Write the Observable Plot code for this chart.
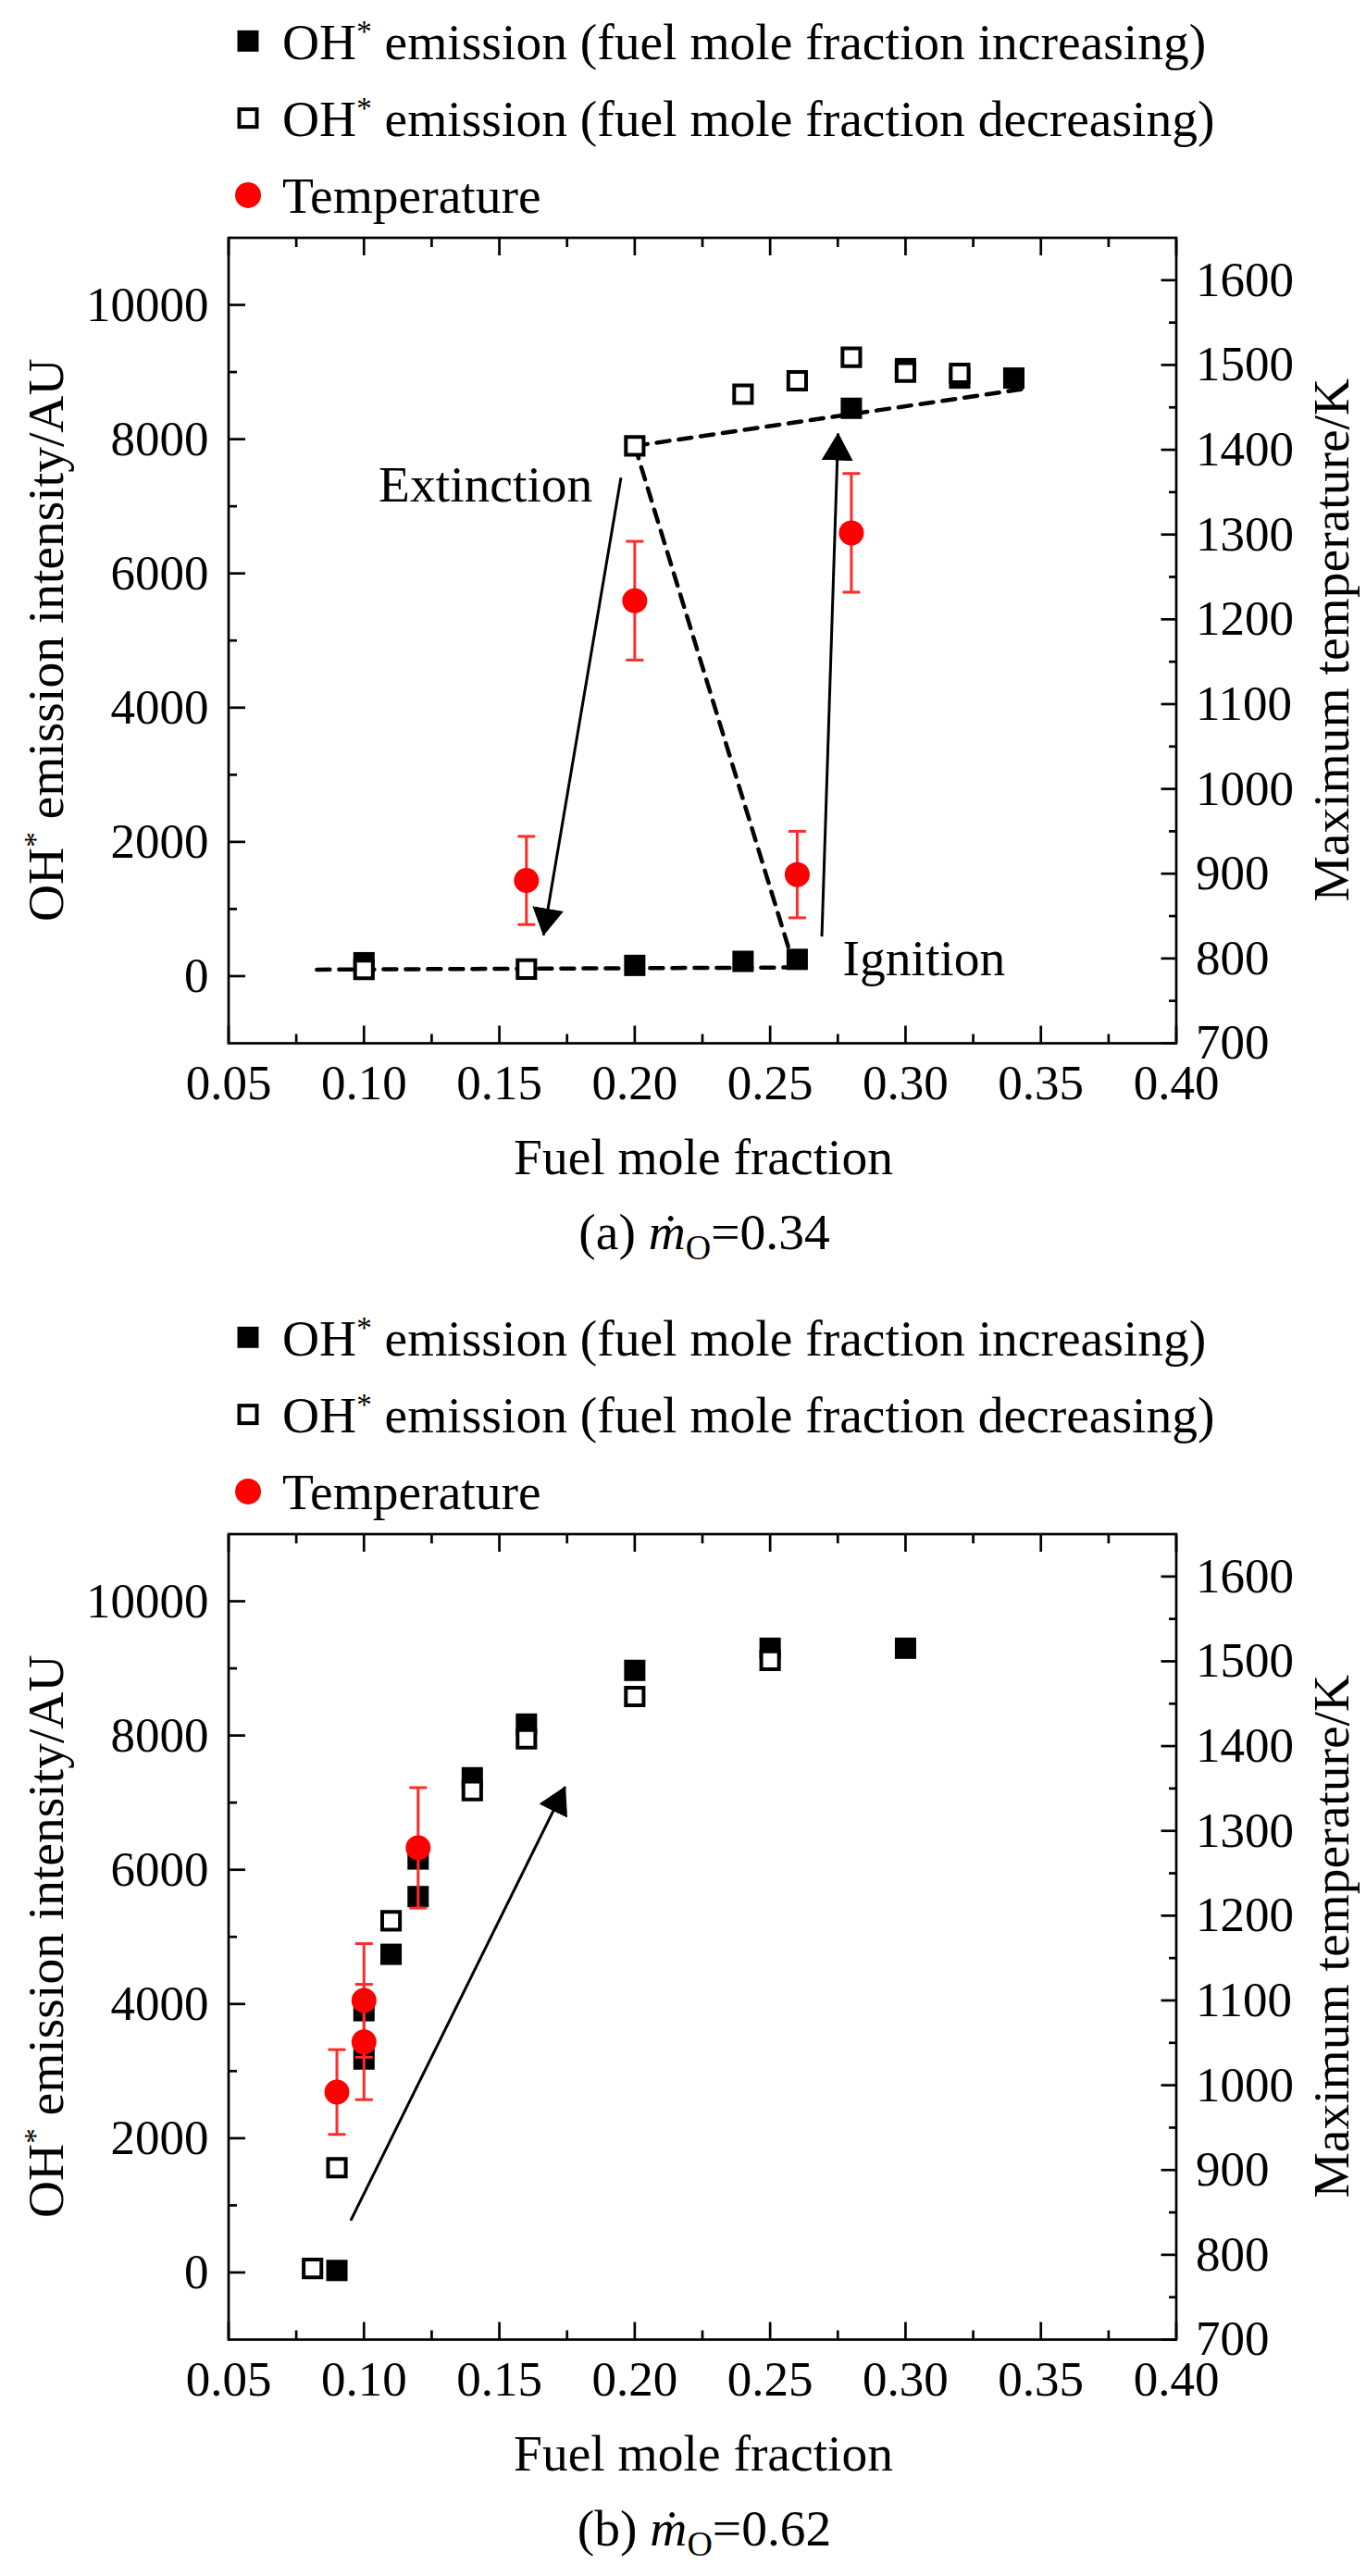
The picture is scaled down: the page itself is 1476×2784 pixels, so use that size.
<!DOCTYPE html>
<html><head><meta charset="utf-8">
<script src="https://cdn.jsdelivr.net/npm/d3@7"></script>
<script src="https://cdn.jsdelivr.net/npm/@observablehq/plot@0.6"></script>
<style>
body{margin:0;background:#fff;}
#root{position:relative;width:1476px;height:2784px;overflow:hidden;background:#fff;}
.panel{position:absolute;left:0;width:1476px;}
</style></head><body><div id="root"></div>
<script>
// ---------- axes ----------
const X_DOMAIN = [0.05, 0.40];
const Y_DOMAIN = [-1000, 11000];
const T_DOMAIN = [700, 1650];
const xMajor = [0.05, 0.10, 0.15, 0.20, 0.25, 0.30, 0.35, 0.40];
const xMinor = [0.075, 0.125, 0.175, 0.225, 0.275, 0.325, 0.375];
const yMajor = [0, 2000, 4000, 6000, 8000, 10000];
const yMinor = [1000, 3000, 5000, 7000, 9000];
const tMajor = [700, 800, 900, 1000, 1100, 1200, 1300, 1400, 1500, 1600];
const tMinor = [750, 850, 950, 1050, 1150, 1250, 1350, 1450, 1550];
const xTitle = "Fuel mole fraction";
const yTitle = ["OH", "*", " emission intensity/AU"];
const tTitle = "Maximum temperature/K";
const legendLabels = [
  ["OH", "*", " emission (fuel mole fraction increasing)"],
  ["OH", "*", " emission (fuel mole fraction decreasing)"],
  ["", "", "Temperature"]
];

// ---------- panel (a) ----------
const aCaption = ["(a) ", "ṁ", "O", "=0.34"];
const aIncX = [0.10, 0.20, 0.24, 0.26, 0.28, 0.30, 0.32, 0.34];
const aIncY = [200, 160, 220, 250, 8460, 9050, 8910, 8910];
const aDecX = [0.10, 0.16, 0.20, 0.24, 0.26, 0.28, 0.30, 0.32];
const aDecY = [100, 105, 7900, 8670, 8870, 9220, 9000, 8980];
const aTempX = [0.16, 0.20, 0.26, 0.28];
const aTemp = [892, 1222, 899, 1302];
const aTempErr = [52, 70, 51, 70];
const aLineId = ["low", "low", "drop", "drop", "upper", "upper"];
const aLineX = [0.0826, 0.262, 0.20, 0.2575, 0.20, 0.344];
const aLineY = [97, 130, 7900, 330, 7900, 8750];
const aArrowX1 = [0.1949, 0.2691];
const aArrowY1 = [7426, 590];
const aArrowX2 = [0.1663, 0.2751];
const aArrowY2 = [611, 8083];
const aNoteText = ["Extinction", "Ignition"];
const aNoteX = [0.1054, 0.2768];
const aNoteY = [7076, 14];

// ---------- panel (b) ----------
const bCaption = ["(b) ", "ṁ", "O", "=0.62"];
const bIncX = [0.09, 0.10, 0.10, 0.11, 0.12, 0.12, 0.14, 0.16, 0.20, 0.25, 0.30];
const bIncY = [30, 3180, 3900, 4740, 5600, 6160, 7370, 8170, 8970, 9300, 9300];
const bDecX = [0.081, 0.09, 0.11, 0.14, 0.16, 0.20, 0.25];
const bDecY = [60, 1560, 5240, 7180, 7950, 8580, 9120];
const bTempX = [0.09, 0.10, 0.10, 0.12];
const bTemp = [992, 1100, 1051, 1280];
const bTempErr = [50, 67, 68, 71];
const bLineId = [];
const bLineX = [];
const bLineY = [];
const bArrowX1 = [0.0951];
const bArrowY1 = [774];
const bArrowX2 = [0.1743];
const bArrowY2 = [7234];
const bNoteText = [];
const bNoteX = [];
const bNoteY = [];

// ---------- drawing ----------
const FONT = '"Liberation Serif", "Times New Roman", serif';
const TICK_FS = 53, TEXT_FS = 55.5;
const RED = "#ff0000", RED_BAR = "#ff2b2b";
const tToY = t => Y_DOMAIN[0] + (t - T_DOMAIN[0]) * (Y_DOMAIN[1] - Y_DOMAIN[0]) / (T_DOMAIN[1] - T_DOMAIN[0]);
const yToT = y => T_DOMAIN[0] + (y - Y_DOMAIN[0]) * (T_DOMAIN[1] - T_DOMAIN[0]) / (Y_DOMAIN[1] - Y_DOMAIN[0]);
const capSymbol = {draw(ctx, size) { const w = Math.sqrt(size / Math.PI); ctx.moveTo(-w, 0); ctx.lineTo(w, 0); }};
const triMarker = (color, context) => {
  const doc = (context && context.document) || document;
  const m = doc.createElementNS("http://www.w3.org/2000/svg", "marker");
  m.setAttribute("viewBox", "0 0 30 34");
  m.setAttribute("refX", "29");
  m.setAttribute("refY", "17");
  m.setAttribute("markerUnits", "userSpaceOnUse");
  m.setAttribute("markerWidth", "30");
  m.setAttribute("markerHeight", "34");
  m.setAttribute("orient", "auto");
  const p = doc.createElementNS("http://www.w3.org/2000/svg", "path");
  p.setAttribute("d", "M0,0L30,17L0,34Z");
  p.setAttribute("fill", "#000");
  p.setAttribute("stroke", "none");
  m.appendChild(p);
  return m;
};

const W = 1476, H = 1383;
const M = {left: 246.5, right: 205.5, top: 256.5, bottom: 256};

function panel(cfg, id) {
  const inc = cfg.incX.map((x, i) => ({x, y: cfg.incY[i]}));
  const dec = cfg.decX.map((x, i) => ({x, y: cfg.decY[i]}));
  const temp = cfg.tempX.map((x, i) => ({
    x, y: tToY(cfg.temp[i]),
    lo: tToY(cfg.temp[i] - cfg.err[i]), hi: tToY(cfg.temp[i] + cfg.err[i])
  }));
  const caps = temp.flatMap(d => [{x: d.x, y: d.lo}, {x: d.x, y: d.hi}]);
  const lines = cfg.lineX.map((x, i) => ({x, y: cfg.lineY[i], z: cfg.lineId[i]}));
  const arrows = cfg.ax1.map((x1, i) => ({x1, y1: cfg.ay1[i], x2: cfg.ax2[i], y2: cfg.ay2[i]}));
  const notes = cfg.noteText.map((t, i) => ({t, x: cfg.noteX[i], y: cfg.noteY[i]}));
  const tk = {stroke: "#000", strokeWidth: 2.7, fill: "none", label: null};
  const lb = {stroke: "none", tickSize: 0, label: null, fontSize: TICK_FS, fill: "#000"};

  const chart = Plot.plot({
    width: W, height: H,
    marginLeft: M.left, marginRight: M.right, marginTop: M.top, marginBottom: M.bottom,
    x: {domain: X_DOMAIN}, y: {domain: Y_DOMAIN},
    style: {fontFamily: FONT, color: "#000", background: "transparent", overflow: "visible"},
    marks: [
      // ticks (inward)
      Plot.axisX(xMajor, {...tk, anchor: "bottom", tickSize: -18.5}),
      Plot.axisX(xMinor, {...tk, anchor: "bottom", tickSize: -9.5}),
      Plot.axisX(xMajor, {...tk, anchor: "top", tickSize: -18.5}),
      Plot.axisX(xMinor, {...tk, anchor: "top", tickSize: -9.5}),
      Plot.axisY(yMajor, {...tk, anchor: "left", tickSize: -18.5}),
      Plot.axisY(yMinor, {...tk, anchor: "left", tickSize: -9.5}),
      Plot.axisY(tMajor.map(tToY), {...tk, anchor: "right", tickSize: -17}),
      Plot.axisY(tMinor.map(tToY), {...tk, anchor: "right", tickSize: -8.5}),
      // tick labels
      Plot.axisX(xMajor, {...lb, anchor: "bottom", tickPadding: 23, tickFormat: d => d.toFixed(2)}),
      Plot.axisY(yMajor, {...lb, anchor: "left", tickPadding: 21.5, tickFormat: d => String(d)}),
      Plot.axisY(tMajor.map(tToY), {...lb, anchor: "right", tickPadding: 21, tickFormat: d => String(Math.round(yToT(d)))}),
      // dashed guide lines
      Plot.line(lines, {x: "x", y: "y", z: "z", stroke: "#000", strokeWidth: 4.5, strokeDasharray: "14,10"}),
      // OH* emission
      Plot.dot(inc, {x: "x", y: "y", symbol: "square", r: 13, fill: "#000", stroke: "none"}),
      Plot.dot(dec, {x: "x", y: "y", symbol: "square", r: 10.8, fill: "#fff", stroke: "#000", strokeWidth: 4}),
      // temperature with error bars
      Plot.ruleX(temp, {x: "x", y1: "lo", y2: "hi", stroke: RED_BAR, strokeWidth: 3}),
      Plot.dot(caps, {x: "x", y: "y", symbol: capSymbol, r: 9.5, fill: "none", stroke: RED_BAR, strokeWidth: 3}),
      Plot.dot(temp, {x: "x", y: "y", r: 13.5, fill: RED, stroke: "none"}),
      // arrows
      Plot.link(arrows, {x1: "x1", y1: "y1", x2: "x2", y2: "y2", stroke: "#000", strokeWidth: 3, markerEnd: triMarker}),
      // annotations
      Plot.text(notes, {x: "x", y: "y", text: "t", textAnchor: "start", lineAnchor: "bottom", fontSize: TEXT_FS, fill: "#000"}),
      Plot.frame({stroke: "#000", strokeWidth: 2.7})
    ]
  });

  const svg = d3.select(chart);
  // fallback if the custom marker function was not applied
  if (svg.selectAll("marker").size() === 0) {
    const mid = "tri-" + id;
    const mk = triMarker(null, {document});
    mk.setAttribute("id", mid);
    svg.append("defs").node().appendChild(mk);
    svg.selectAll('g[aria-label="link"] path').attr("marker-end", `url(#${mid})`);
  }

  const ov = svg.append("g").attr("font-family", FONT).attr("fill", "#000");
  // legend
  const rows = [44.3, 127.6, 210.9];
  rows.forEach((cy, i) => {
    if (i === 0) ov.append("rect").attr("x", 268 - 11.5).attr("y", cy - 11.5).attr("width", 23).attr("height", 23).attr("fill", "#000");
    if (i === 1) ov.append("rect").attr("x", 268 - 9.5).attr("y", cy - 9.5).attr("width", 19).attr("height", 19).attr("fill", "#fff").attr("stroke", "#000").attr("stroke-width", 4);
    if (i === 2) ov.append("circle").attr("cx", 268).attr("cy", cy).attr("r", 14).attr("fill", RED);
    const t = ov.append("text").attr("x", 305).attr("y", cy + 19.5).attr("text-anchor", "start").attr("font-size", TEXT_FS);
    const [a, s, b] = legendLabels[i];
    if (a) t.append("tspan").text(a);
    if (s) t.append("tspan").attr("font-size", 33).attr("dy", -19).text(s);
    t.append("tspan").attr("dy", s ? 19 : 0).text(b);
  });
  // x title
  ov.append("text").attr("x", 760).attr("y", 1269.4).attr("text-anchor", "middle").attr("font-size", TEXT_FS).text(xTitle);
  // left title
  const yt = ov.append("text").attr("transform", "translate(68,691.75) rotate(-90)").attr("text-anchor", "middle").attr("font-size", TEXT_FS);
  yt.append("tspan").text(yTitle[0]);
  yt.append("tspan").attr("font-size", 33).attr("dy", -19).text(yTitle[1]);
  yt.append("tspan").attr("dy", 19).text(yTitle[2]);
  // right title
  ov.append("text").attr("transform", "translate(1457,691.75) rotate(-90)").attr("text-anchor", "middle").attr("font-size", TEXT_FS).text(tTitle);
  // caption
  const c = ov.append("text").attr("x", 761).attr("y", 1350).attr("text-anchor", "middle").attr("font-size", TEXT_FS);
  c.append("tspan").text(cfg.caption[0]);
  c.append("tspan").attr("font-style", "italic").text(cfg.caption[1]);
  c.append("tspan").attr("font-size", 38).attr("dy", 11).text(cfg.caption[2]);
  c.append("tspan").attr("dy", -11).text(cfg.caption[3]);
  return chart;
}

const root = document.getElementById("root");
const cfgs = [
  {caption: aCaption, incX: aIncX, incY: aIncY, decX: aDecX, decY: aDecY, tempX: aTempX, temp: aTemp, err: aTempErr,
   lineId: aLineId, lineX: aLineX, lineY: aLineY, ax1: aArrowX1, ay1: aArrowY1, ax2: aArrowX2, ay2: aArrowY2,
   noteText: aNoteText, noteX: aNoteX, noteY: aNoteY},
  {caption: bCaption, incX: bIncX, incY: bIncY, decX: bDecX, decY: bDecY, tempX: bTempX, temp: bTemp, err: bTempErr,
   lineId: bLineId, lineX: bLineX, lineY: bLineY, ax1: bArrowX1, ay1: bArrowY1, ax2: bArrowX2, ay2: bArrowY2,
   noteText: bNoteText, noteX: bNoteX, noteY: bNoteY}
];
const tops = [0, 1401];
cfgs.forEach((cfg, i) => {
  const div = document.createElement("div");
  div.className = "panel";
  div.style.top = tops[i] + "px";
  div.appendChild(panel(cfg, i));
  root.appendChild(div);
});
</script></body></html>
